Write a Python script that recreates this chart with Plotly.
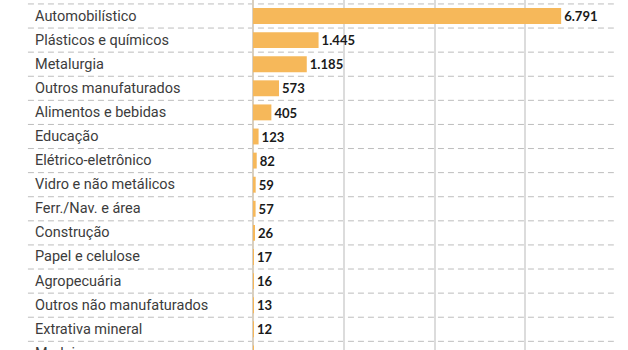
import plotly.graph_objects as go

categories = [
    "Automobilístico", "Plásticos e químicos", "Metalurgia", "Outros manufaturados",
    "Alimentos e bebidas", "Educação", "Elétrico-eletrônico", "Vidro e não metálicos",
    "Ferr./Nav. e área", "Construção", "Papel e celulose", "Agropecuária",
    "Outros não manufaturados", "Extrativa mineral", "Madeira",
]
values = [6791, 1445, 1185, 573, 405, 123, 82, 59, 57, 26, 17, 16, 13, 12, 10]
value_labels = ["6.791", "1.445", "1.185", "573", "405", "123", "82", "59", "57",
                "26", "17", "16", "13", "12", "10"]

BAR = "#F6B85A"
ROW_PX = 24.1

fig = go.Figure()
fig.add_trace(go.Bar(
    x=values, y=categories, orientation="h",
    marker=dict(color=BAR, line=dict(width=0)),
    width=0.66,
    text=value_labels, textposition="outside",
    textfont=dict(family="Lato", size=14, color="#1a1a1a", weight="bold"),
    cliponaxis=False,
    hoverinfo="skip",
))

shapes = []
for i in range(-1, len(categories)):
    shapes.append(dict(
        type="line", xref="paper", yref="y",
        x0=-0.62, x1=0.994, y0=i + 0.5, y1=i + 0.5,
        line=dict(color="#bdbdbd", width=1, dash="6px,4px"),
        layer="below",
    ))

annotations = []
for i, c in enumerate(categories):
    annotations.append(dict(
        x=-0.606, xref="paper", y=i - 0.5, yref="y", yshift=-ROW_PX / 2,
        text=c, showarrow=False,
        xanchor="left", yanchor="middle",
        font=dict(family="Roboto", size=14.5, color="#3c3c3c"),
    ))

fig.update_layout(
    width=628, height=350,
    margin=dict(l=253, r=12, t=0, b=0),
    paper_bgcolor="white", plot_bgcolor="white",
    showlegend=False,
    shapes=shapes, annotations=annotations,
    xaxis=dict(range=[0, 8000], dtick=2000, showgrid=True, gridcolor="#dcdcdc",
               gridwidth=1.5, showticklabels=False, zeroline=True,
               zerolinecolor="#d9cfbf", zerolinewidth=2, showline=False, fixedrange=True),
    yaxis=dict(range=[13.86, -0.664], showticklabels=False, showgrid=False,
               zeroline=False, showline=False, fixedrange=True),
    bargap=0.34,
)

fig.write_html("out.html")
